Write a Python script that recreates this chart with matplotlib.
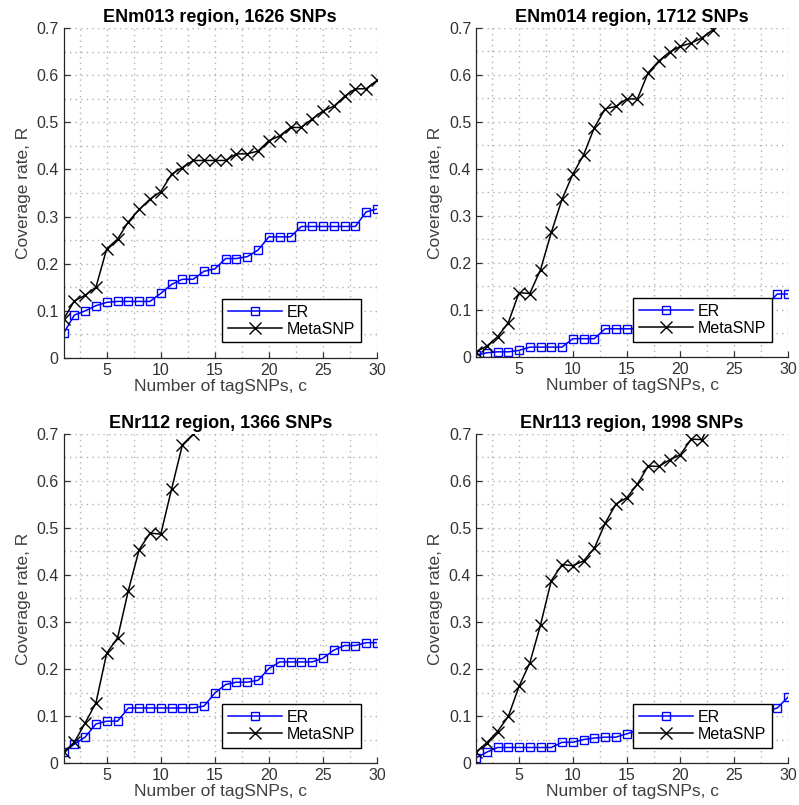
import numpy as np
import matplotlib
matplotlib.use('Agg')
import matplotlib.pyplot as plt
from matplotlib.ticker import MultipleLocator

plt.rcParams['font.family'] = ['Liberation Sans', 'DejaVu Sans']

# number of tagSNPs
c = np.arange(1, 31)

titles = ['ENm013 region, 1626 SNPs', 'ENm014 region, 1712 SNPs',
          'ENr112 region, 1366 SNPs', 'ENr113 region, 1998 SNPs']

# coverage rate (ER goes to c=30, MetaSNP runs off the top)
er_m013 = [0.052, 0.091, 0.100, 0.111, 0.118, 0.120, 0.120, 0.120, 0.120, 0.137,
           0.156, 0.167, 0.167, 0.184, 0.189, 0.211, 0.211, 0.215, 0.229, 0.257,
           0.257, 0.257, 0.279, 0.279, 0.279, 0.279, 0.279, 0.279, 0.310, 0.316]
meta_m013 = [0.082, 0.121, 0.133, 0.150, 0.232, 0.252, 0.289, 0.315, 0.337, 0.353,
             0.390, 0.404, 0.419, 0.419, 0.419, 0.419, 0.433, 0.433, 0.439, 0.461,
             0.471, 0.489, 0.489, 0.507, 0.524, 0.534, 0.555, 0.571, 0.571, 0.589]

er_m014 = [0.004, 0.009, 0.011, 0.011, 0.014, 0.021, 0.021, 0.021, 0.021, 0.039,
           0.039, 0.039, 0.060, 0.060, 0.060, 0.060, 0.065, 0.070, 0.075, 0.080,
           0.085, 0.090, 0.095, 0.100, 0.105, 0.108, 0.110, 0.110, 0.134, 0.134]
meta_m014 = [0.011, 0.023, 0.043, 0.073, 0.137, 0.135, 0.186, 0.265, 0.336, 0.389,
             0.430, 0.488, 0.528, 0.533, 0.549, 0.549, 0.605, 0.630, 0.649, 0.661,
             0.668, 0.679, 0.696, 0.740]

er_r112 = [0.023, 0.040, 0.055, 0.083, 0.089, 0.089, 0.117, 0.117, 0.117, 0.117,
           0.117, 0.117, 0.117, 0.121, 0.149, 0.167, 0.172, 0.172, 0.176, 0.201,
           0.215, 0.215, 0.215, 0.215, 0.223, 0.240, 0.250, 0.250, 0.256, 0.256]
meta_r112 = [0.023, 0.044, 0.085, 0.128, 0.234, 0.266, 0.367, 0.454, 0.489, 0.487,
             0.583, 0.677, 0.700]

er_r113 = [0.011, 0.023, 0.033, 0.033, 0.033, 0.033, 0.033, 0.033, 0.044, 0.044,
           0.050, 0.053, 0.055, 0.055, 0.062, 0.069, 0.075, 0.080, 0.085, 0.090,
           0.095, 0.100, 0.105, 0.108, 0.110, 0.110, 0.110, 0.110, 0.117, 0.140]
meta_r113 = [0.023, 0.043, 0.067, 0.099, 0.163, 0.213, 0.294, 0.388, 0.422, 0.420,
             0.430, 0.457, 0.510, 0.551, 0.564, 0.593, 0.632, 0.631, 0.645, 0.656,
             0.689, 0.688, 0.740]

er_all = [er_m013, er_m014, er_r112, er_r113]
meta_all = [meta_m013, meta_m014, meta_r112, meta_r113]

ytick_vals = [0, 0.1, 0.2, 0.3, 0.4, 0.5, 0.6, 0.7]
ytick_labels = ['0', '0.1', '0.2', '0.3', '0.4', '0.5', '0.6', '0.7']
xtick_vals = [5, 10, 15, 20, 25, 30]

W, H = 799, 805
# axes boxes in pixels: left, top, right, bottom
boxes = [(63.5, 28, 377, 358), (476, 28, 788, 357),
         (63.5, 434, 377, 763), (476, 434, 788, 763)]

fig = plt.figure(figsize=(W / 100, H / 100), dpi=100)
dark = '#262626'

for i in range(4):
    l, t, r, b = boxes[i]
    ax = fig.add_axes([l / W, 1 - b / H, (r - l) / W, (b - t) / H])

    er = er_all[i]
    meta = meta_all[i]
    ax.plot(c[:len(er)], er, color='blue', lw=1.1, marker='s', ms=6,
            mfc='none', mec='blue', mew=1.0, label='ER')
    ax.plot(c[:len(meta)], meta, color='black', lw=1.1, marker='x', ms=8,
            mew=1.0, label='MetaSNP')

    ax.set_xlim(1, 30)
    ax.set_ylim(0, 0.7)
    ax.set_xticks(xtick_vals)
    ax.set_yticks(ytick_vals)
    ax.set_yticklabels(ytick_labels)
    ax.xaxis.set_minor_locator(MultipleLocator(2.5))
    ax.yaxis.set_minor_locator(MultipleLocator(0.05))
    ax.grid(True, which='both', color='#b0b0b0', linestyle=(0, (1, 3)), linewidth=1.0)
    ax.set_axisbelow(True)

    ax.spines['top'].set_visible(False)
    ax.spines['right'].set_visible(False)
    for s in ['left', 'bottom']:
        ax.spines[s].set_color(dark)
        ax.spines[s].set_linewidth(0.9)
    ax.tick_params(which='major', direction='in', length=4, width=0.9,
                   colors='#333333', labelsize=11.5)
    ax.tick_params(which='minor', length=0)

    ax.set_xlabel('Number of tagSNPs, c', fontsize=12.5, color='#404040', labelpad=1)
    ax.set_ylabel('Coverage rate, R', fontsize=12.5, color='#404040', labelpad=4)
    ax.set_title(titles[i], fontsize=13, fontweight='bold', pad=4)

    leg = ax.legend(loc='lower right', bbox_to_anchor=(0.948, 0.047),
                    borderaxespad=0, fontsize=11.5, fancybox=False,
                    framealpha=1, edgecolor='black', handlelength=3.4,
                    labelspacing=0.15, borderpad=0.35, handletextpad=0.3)
    leg.get_frame().set_linewidth(1.0)

fig.savefig('out.png', dpi=100)
